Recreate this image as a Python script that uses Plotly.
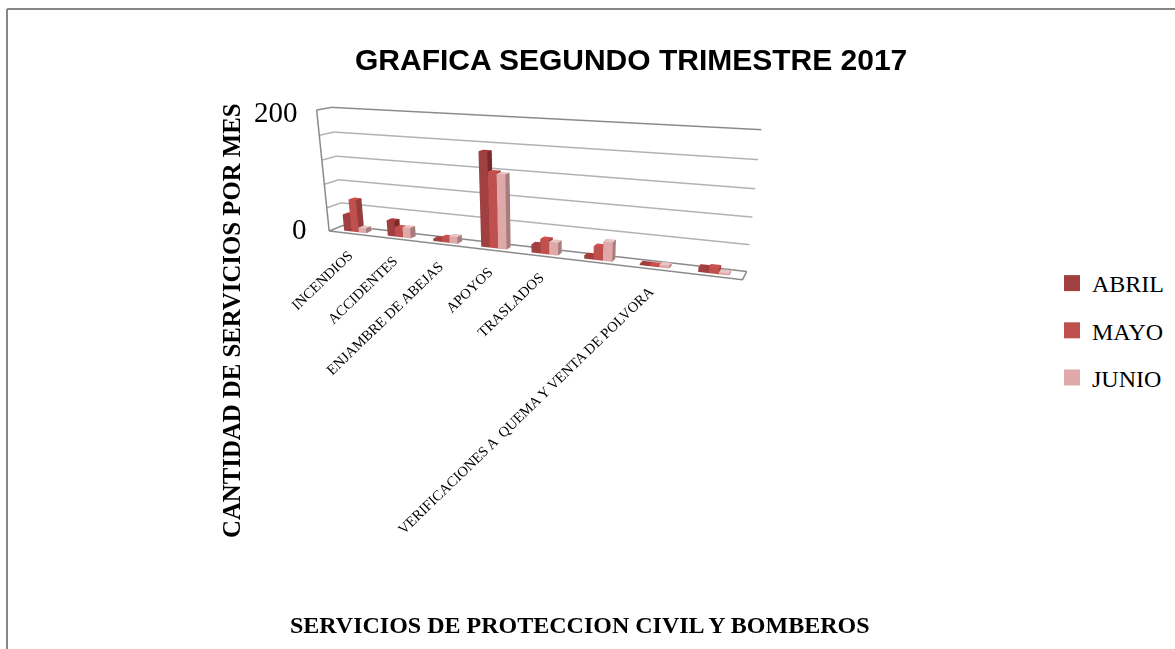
import plotly.graph_objects as go

TITLE = "GRAFICA SEGUNDO TRIMESTRE 2017"
X_TITLE = "SERVICIOS DE PROTECCION CIVIL Y BOMBEROS"
Y_TITLE = "CANTIDAD DE SERVICIOS POR MES"
categories = ["INCENDIOS", "ACCIDENTES", "ENJAMBRE DE ABEJAS", "APOYOS", "TRASLADOS", "",
              "VERIFICACIONES A  QUEMA Y VENTA DE POLVORA", ""]
abril = [28, 26, 4, 150, 13, 5, 2, 7]
mayo = [55, 16, 8, 120, 23, 21, 2, 9]
junio = [8, 17, 11, 118, 20, 30, 4, 3]
z_ticks = [0, 40, 80, 120, 160, 200]
z_labels = ["0", "200"]

SERIES = [
    ("ABRIL", abril, "#A04040", "#A83C3C", "#7A2A2A"),
    ("MAYO", mayo, "#C0504D", "#CF4F4C", "#963C3A"),
    ("JUNIO", junio, "#DFA9A9", "#E8C4C4", "#A67C7C"),
]
BAR_W = 0.17
SERIF = "Liberation Serif"


def bars(values, offset, front, top, side):
    xs, ys, zs, ii, jj, kk, fc = [], [], [], [], [], [], []
    y0, y1 = 0.3, 0.7
    quads = [((0, 1, 2, 3), "#8a3030"), ((4, 5, 6, 7), top), ((0, 1, 5, 4), front),
             ((2, 3, 7, 6), front), ((1, 2, 6, 5), side), ((0, 3, 7, 4), side)]
    for n, v in enumerate(values):
        x0 = n + 0.51 + offset * BAR_W - BAR_W / 2
        x1 = x0 + BAR_W
        b = len(xs)
        for zz in (0, v):
            xs += [x0, x1, x1, x0]
            ys += [y0, y0, y1, y1]
            zs += [zz] * 4
        for q, c in quads:
            ii += [b + q[0], b + q[0]]
            jj += [b + q[1], b + q[2]]
            kk += [b + q[2], b + q[3]]
            fc += [c, c]
    return dict(x=xs, y=ys, z=zs, i=ii, j=jj, k=kk, facecolor=fc)


fig = go.Figure()
N = len(categories)
nan = None

# inner gridlines on the two back walls
gx, gy, gz = [], [], []
for t in z_ticks[1:-1]:
    gx += [0, 0, N, nan]
    gy += [0, 1, 1, nan]
    gz += [t, t, t, nan]
fig.add_trace(go.Scatter3d(x=gx, y=gy, z=gz, mode="lines", line=dict(color="#b2b2b2", width=3),
                           hoverinfo="skip", showlegend=False))

for idx, (name, vals, front, top, side) in enumerate(SERIES):
    fig.add_trace(go.Mesh3d(**bars(vals, idx - 1, front, top, side), flatshading=True,
                            lighting=dict(ambient=1, diffuse=0, specular=0, fresnel=0),
                            hoverinfo="skip", showlegend=False))
    fig.add_trace(go.Scatter(x=[None], y=[None], mode="markers", name=name, legendgroup=name,
                             marker=dict(symbol="square", size=16, color=front)))

# floor outline, left edge, top line
fig.add_trace(go.Scatter3d(
    x=[0, N, N, 0, 0, nan, 0, 0, N, nan, 0, 0],
    y=[1, 1, 0, 0, 1, nan, 0, 1, 1, nan, 0, 0],
    z=[0, 0, 0, 0, 0, nan, 200, 200, 200, nan, 0, 200],
    mode="lines", line=dict(color="#8a8a8a", width=3), hoverinfo="skip", showlegend=False))

annots = []
for n, c in enumerate(categories):
    if c:
        annots.append(dict(x=n + 0.5, y=0, z=0, text=c, showarrow=False, textangle=-44,
                           xanchor="right", yanchor="top", xshift=8, yshift=-11,
                           font=dict(family=SERIF, size=14.5, color="#000")))
annots.append(dict(x=0, y=0, z=0, text=z_labels[0], showarrow=False, xanchor="right", xshift=-20, yshift=2,
                   font=dict(family=SERIF, size=29, color="#000")))
annots.append(dict(x=0, y=0, z=200, text=z_labels[1], showarrow=False, xanchor="right", xshift=-17, yshift=-2,
                   font=dict(family=SERIF, size=29, color="#000")))

axis_off = dict(showgrid=False, showticklabels=False, showline=False, zeroline=False, title="",
                showbackground=False, showspikes=False, ticks="")
fig.update_layout(
    width=1175, height=649, margin=dict(l=0, r=0, t=0, b=0),
    paper_bgcolor="white", plot_bgcolor="white",
    xaxis=dict(visible=False), yaxis=dict(visible=False),
    scene=dict(
        domain=dict(x=[0, 1080 / 1175], y=[0, 1]),
        xaxis=dict(axis_off, range=[0, N]),
        yaxis=dict(axis_off, range=[0, 1]),
        zaxis=dict(axis_off, range=[0, 200], tickvals=z_ticks),
        aspectmode="manual", aspectratio=dict(x=3.46, y=0.2, z=1),
        camera=dict(eye=dict(x=2.364, y=-5.44, z=1.249), center=dict(x=0.278, y=-0.278, z=-0.989),
                    up=dict(x=0, y=0, z=1), projection=dict(type="perspective")),
        annotations=annots,
    ),
    legend=dict(x=1052 / 1175, y=1 - 261 / 649, xanchor="left", yanchor="top",
                traceorder="grouped", tracegroupgap=13, itemwidth=30,
                font=dict(family=SERIF, size=24, color="#000")),
    annotations=[
        dict(x=631 / 1175, y=1 - 60 / 649, xref="paper", yref="paper", text="<b>%s</b>" % TITLE, showarrow=False,
             xanchor="center", yanchor="middle",
             font=dict(family="Liberation Sans", size=30, color="#000")),
        dict(x=580 / 1175, y=1 - 625 / 649, xref="paper", yref="paper", text="<b>%s</b>" % X_TITLE, showarrow=False,
             xanchor="center", yanchor="middle",
             font=dict(family=SERIF, size=24, color="#000")),
        dict(x=231 / 1175, y=1 - 321 / 649, xref="paper", yref="paper", text="<b>%s</b>" % Y_TITLE, showarrow=False,
             xanchor="center", yanchor="middle",
             textangle=-90, font=dict(family=SERIF, size=24.8, color="#000")),
    ],
    shapes=[
        dict(type="line", xref="paper", yref="paper", x0=7 / 1175, x1=7 / 1175, y0=0, y1=1 - 9 / 649,
             line=dict(color="#868686", width=2)),
        dict(type="line", xref="paper", yref="paper", x0=7 / 1175, x1=1, y0=1 - 9 / 649, y1=1 - 9 / 649,
             line=dict(color="#868686", width=2)),
    ],
)
fig.write_html("out.html", config={"displayModeBar": False},
               post_script="document.body.style.margin='0';")
